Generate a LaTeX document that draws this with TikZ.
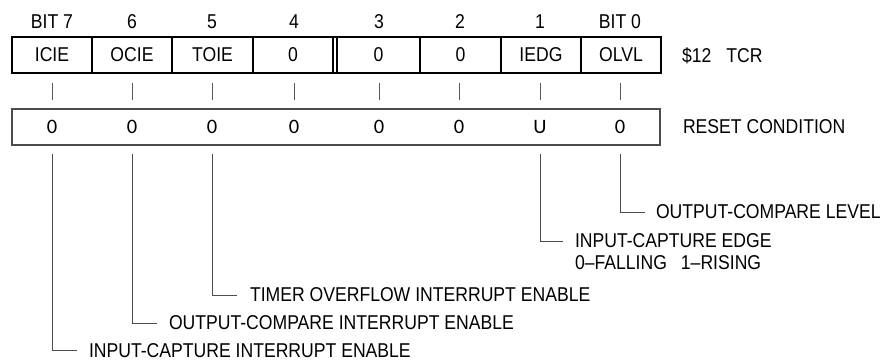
\documentclass[tikz,border=0pt]{standalone}
\usepackage{fontspec}
\setmainfont{Liberation Sans}[FakeStretch=0.88]
\newfontfamily\rstfont{Carlito}
\begin{document}
\begin{tikzpicture}[x=1pt,y=-1pt,
  every node/.style={inner sep=0pt, outer sep=0pt, font=\fontsize{20}{22}\selectfont},
  cell/.style={minimum height=36pt, anchor=center},
  rcell/.style={minimum height=36pt, anchor=center, font=\rstfont\fontsize{20.5}{22}\selectfont},
  regframe/.style={draw=black, line width=1.8pt},
  rstframe/.style={draw=black!70, line width=1.1pt},
  divider/.style={draw=black, line width=1.8pt},
  tickmark/.style={draw=black!65, line width=0.9pt},
  leader/.style={draw=black!70, line width=1pt},
  lbl/.style={anchor=west, align=left}]
\useasboundingbox (0,0) rectangle (883,360);
% register frame
\node[regframe, minimum width=649pt, minimum height=36pt] (reg) at (336.5,55) {};
% cells
\node[cell, minimum width=80pt] (c7) at (52,55) {ICIE};
\node[cell, minimum width=80pt] (c6) at (132,55) {OCIE};
\node[cell, minimum width=81pt] (c5) at (212.5,55) {TOIE};
\node[cell, minimum width=80pt] (c4) at (293,55) {0};
\node[cell, minimum width=83pt] (c3) at (378.5,55) {0};
\node[cell, minimum width=81pt] (c2) at (460.5,55) {0};
\node[cell, minimum width=80pt] (c1) at (541,55) {IEDG};
\node[cell, minimum width=80pt] (c0) at (621,55) {OLVL};
\foreach \c in {c7,c6,c5,c4,c3,c2,c1}{\draw[divider] (\c.north east) -- (\c.south east);}
\draw[divider] (c3.north west) -- (c3.south west);
% bit numbers
\node (b7) at (52,22) {BIT 7};
\node (b6) at (132,22) {6};
\node (b5) at (212,22) {5};
\node (b4) at (294,22) {4};
\node (b3) at (379,22) {3};
\node (b2) at (460,22) {2};
\node (b1) at (540,22) {1};
\node (b0) at (620,22) {BIT 0};
\node[anchor=west] (tcr) at (682,56) {\$12\hspace{15pt}TCR};
% reset row
\node[rstframe, minimum width=648pt, minimum height=36pt] (rst) at (336,127) {};
\node[rcell] (r7) at (52,127) {0};
\node[rcell] (r6) at (132,127) {0};
\node[rcell] (r5) at (212,127) {0};
\node[rcell] (r4) at (294,127) {0};
\node[rcell] (r3) at (379,127) {0};
\node[rcell] (r2) at (459,127) {0};
\node[rcell] (r1) at (540,127) {U};
\node[rcell] (r0) at (620,127) {0};
\node[anchor=west] (rcond) at (683,127) {RESET CONDITION};
% tick marks
\foreach \i in {0,...,7}{\draw[tickmark] ([yshift=-10pt]r\i.north |- c\i.south) -- ([yshift=9pt]r\i.north);}
% description labels
\node[lbl] (tOL) at (656,212) {OUTPUT-COMPARE LEVEL};
\node[lbl] (tIE) at (575,252) {INPUT-CAPTURE EDGE\\0--FALLING\hspace{14pt}1--RISING};
\node[lbl] (tTO) at (250,295) {TIMER OVERFLOW INTERRUPT ENABLE};
\node[lbl] (tOC) at (169,323) {OUTPUT-COMPARE INTERRUPT ENABLE};
\node[lbl] (tIC) at (89,350.5) {INPUT-CAPTURE INTERRUPT ENABLE};
\coordinate (eIE) at ([xshift=-12pt,yshift=11pt]tIE.west);
% leaders
\draw[leader] ([yshift=-9pt]r0.south) |- ([xshift=-11pt]tOL.west);
\draw[leader] ([yshift=-9pt]r1.south) |- (eIE);
\draw[leader] ([yshift=-9pt]r5.south) |- ([xshift=-13pt]tTO.west);
\draw[leader] ([yshift=-9pt]r6.south) |- ([xshift=-12pt]tOC.west);
\draw[leader] ([yshift=-9pt]r7.south) |- ([xshift=-12pt]tIC.west);
\end{tikzpicture}
\end{document}
